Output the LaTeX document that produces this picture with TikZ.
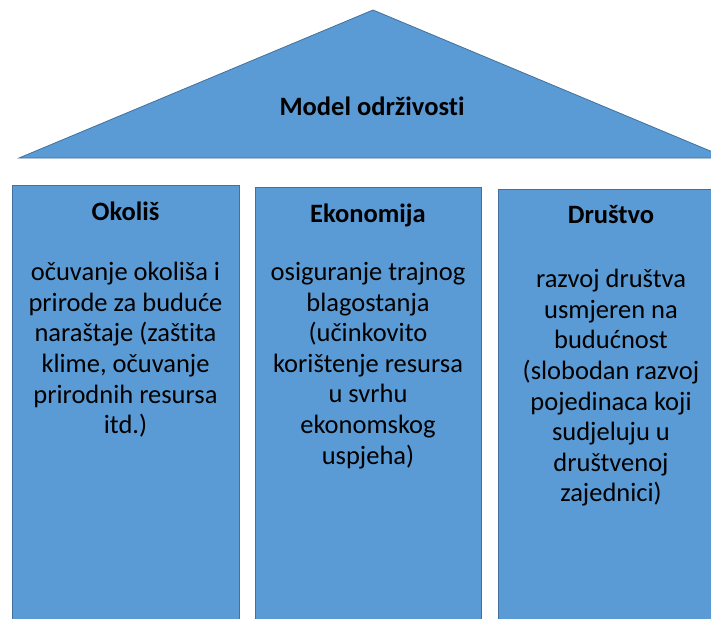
\documentclass[tikz,border=0pt]{standalone}
\usepackage{fontspec}
\setmainfont[Ligatures=NoCommon]{Carlito}
\definecolor{fillblue}{HTML}{5B9BD5}
\definecolor{edgeblue}{HTML}{41719C}
\begin{document}
\begin{tikzpicture}[x=1pt,y=-1pt,
  roof/.style={fill=fillblue,draw=edgeblue,line width=0.8pt},
  pillar/.style={fill=fillblue,draw=edgeblue,line width=0.8pt},
  ptitle/.style={font=\fontsize{26.5}{30.6}\selectfont\bfseries,inner sep=0pt,anchor=base},
  pbody/.style={font=\fontsize{26.5}{30.6}\selectfont,align=center,inner sep=0pt,anchor=north}
]
\useasboundingbox (0,0) rectangle (711,618);
\clip (0,0) rectangle (711,618);
\draw[roof] (19,158) -- (373,10) -- (727,158) -- cycle;
\node[ptitle] (model) at (372,115) {Model održivosti};

\draw[pillar] (12,185) rectangle (239,640);
\draw[pillar] (255,187) rectangle (481,640);
\draw[pillar] (498,189) rectangle (725,640);

\node[ptitle] (t1) at (125.5,220) {Okoliš};
\node[ptitle] (t2) at (368,222) {Ekonomija};
\node[ptitle] (t3) at (611,223) {Društvo};

\node[pbody] (b1) at (125.5,262) {očuvanje okoliša i\\prirode za buduće\\naraštaje (zaštita\\klime, očuvanje\\prirodnih resursa\\itd.)};
\node[pbody] (b2) at (368,262) {osiguranje trajnog\\blagostanja\\(učinkovito\\korištenje resursa\\u svrhu\\ekonomskog\\uspjeha)};
\node[pbody] (b3) at (611,269) {razvoj društva\\usmjeren na\\budućnost\\(slobodan razvoj\\pojedinaca koji\\sudjeluju u\\društvenoj\\zajednici)};
\end{tikzpicture}
\end{document}
